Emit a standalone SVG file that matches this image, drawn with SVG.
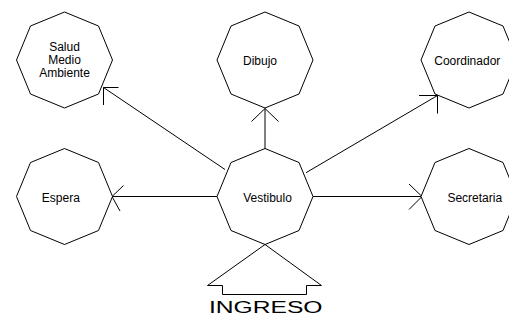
<svg xmlns="http://www.w3.org/2000/svg" width="509" height="320" viewBox="0 0 509 320">
<style>
.oct{fill:#fff;stroke:#000;stroke-width:1}
.lbl{font-family:"Liberation Sans",Arial,sans-serif;font-size:12px;fill:#000;text-anchor:middle}
.con{fill:none;stroke:#000;stroke-width:1}
</style>
<defs>
<polygon id="octa" points="0,-48 34,-34 48,0 34,34 0,48 -34,34 -48,0 -34,-34"/>
</defs>
<rect width="509" height="320" fill="#fff"/>
<g id="connectors">
<path class="con" d="M265,149 L265,108.5 M251.5,121.5 L265,108.5 L278.5,121.5"/>
<path class="con" d="M225,169.5 L103.5,87.5 M118.5,87.5 L103.5,87.5 L103.5,105"/>
<path class="con" d="M306,172.7 L437.5,95.5 M419,95.5 L437.5,95.5 L437.5,113.5"/>
<path class="con" d="M217,196.5 L112,196.5 M123.5,185.5 L112,196.5 L120,211"/>
<path class="con" d="M313,196.5 L422,196.5 M409,184 L422,196.5 L409,209.5"/>
</g>
<g id="salud">
<use href="#octa" class="oct" x="64.5" y="60"/>
<text class="lbl" x="64.5" y="50.5">Salud</text>
<text class="lbl" x="64.5" y="63.5">Medio</text>
<text class="lbl" x="64.5" y="76.5">Ambiente</text>
</g>
<g id="dibujo">
<use href="#octa" class="oct" x="265" y="60"/>
<text class="lbl" x="260" y="65">Dibujo</text>
</g>
<g id="coordinador">
<use href="#octa" class="oct" x="469" y="60"/>
<text class="lbl" x="467.3" y="65">Coordinador</text>
</g>
<g id="espera">
<use href="#octa" class="oct" x="64.5" y="196.5"/>
<text class="lbl" x="60.8" y="202.3">Espera</text>
</g>
<g id="vestibulo">
<use href="#octa" class="oct" x="265" y="196.5"/>
<text class="lbl" x="267.5" y="201.5">Vestibulo</text>
</g>
<g id="secretaria">
<use href="#octa" class="oct" x="469" y="196.5"/>
<text class="lbl" x="474.8" y="202.3">Secretaria</text>
</g>
<g id="ingreso">
<polygon class="con" points="265,244.5 207.5,285.5 222.5,285.5 222.5,294.5 306.5,294.5 306.5,285.5 321.5,285.5"/>
<text x="209" y="313.3" font-family="Liberation Sans, Arial, sans-serif" font-size="16" textLength="113.5" lengthAdjust="spacingAndGlyphs">INGRESO</text>
</g>
</svg>
